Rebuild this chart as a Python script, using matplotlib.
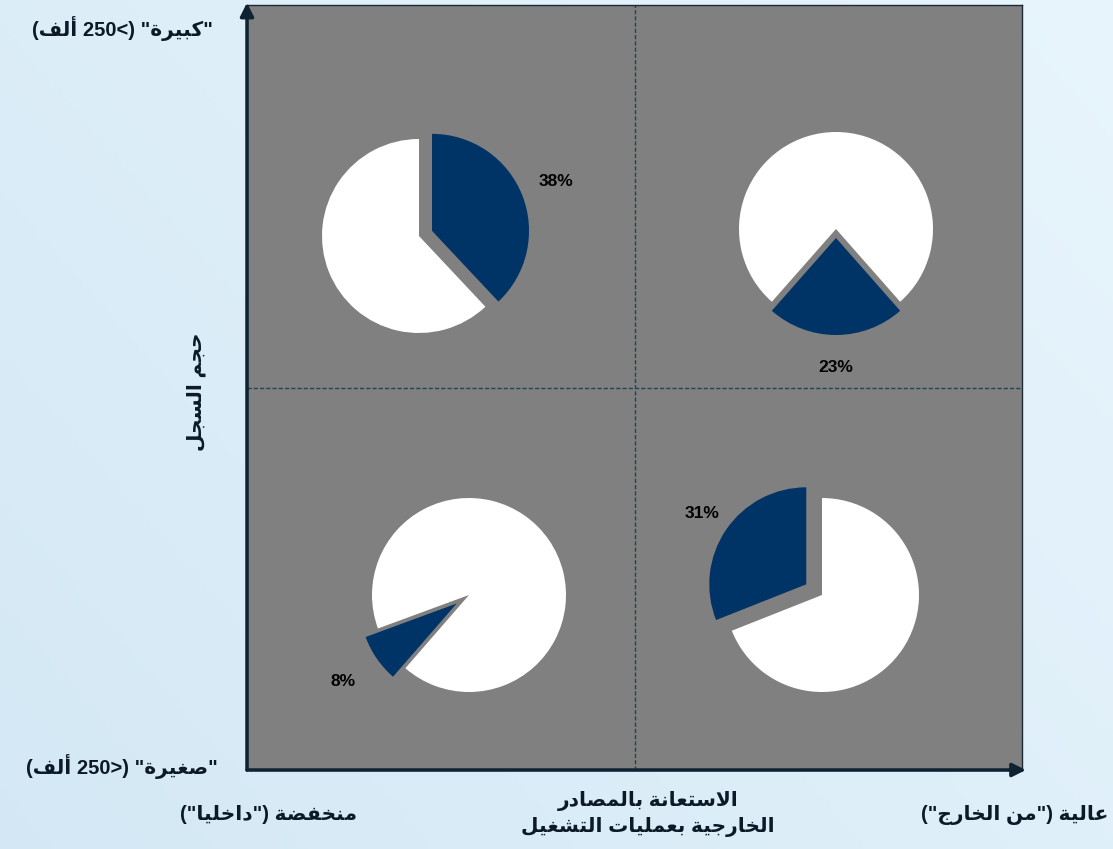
import re
import numpy as np
import matplotlib
matplotlib.use("Agg")
import matplotlib.pyplot as plt

# ---- data -------------------------------------------------------------
quadrants = ["top-left", "top-right", "bottom-left", "bottom-right"]
outsourced_pct = [38, 23, 8, 31]

y_top_label = '"كبيرة" (>250 ألف)'
y_bottom_label = '"صغيرة" (<250 ألف)'
y_title = "حجم السجل"
x_left_label = 'منخفضة ("داخليا")'
x_right_label = 'عالية ("من الخارج")'
x_title = ["الاستعانة بالمصادر", "الخارجية بعمليات التشغيل"]

# ---- layout / style ---------------------------------------------------
BLUE = "#003366"
DARK = "#0b1a26"
GRAY = "#808080"
FONT = ["Liberation Sans", "DejaVu Sans"]

W, H = 775, 765                      # size of the grey square, in px
pie_centers = [(172, 534), (589, 541), (222, 175), (575, 175)]
pie_start = [90, -48.6, 229, 201.6]  # blue slice drawn clockwise from here
pie_explode = [14, 9, 15, 19]
label_dist = [1.37, 1.34, 1.42, 1.30]
RADIUS = 97

# ---- minimal arabic shaping (matplotlib has no complex text layout) ---
AR_FORMS = {
    "\u0627": (0xFE8D, 2), "\u0623": (0xFE83, 2), "\u0628": (0xFE8F, 4),
    "\u0629": (0xFE93, 2), "\u062A": (0xFE95, 4), "\u062C": (0xFE9D, 4),
    "\u062D": (0xFEA1, 4), "\u062E": (0xFEA5, 4), "\u062F": (0xFEA9, 2),
    "\u0631": (0xFEAD, 2), "\u0633": (0xFEB1, 4), "\u0634": (0xFEB5, 4),
    "\u0635": (0xFEB9, 4), "\u0636": (0xFEBD, 4), "\u0639": (0xFEC9, 4),
    "\u063A": (0xFECD, 4), "\u0641": (0xFED1, 4), "\u0643": (0xFED9, 4),
    "\u0644": (0xFEDD, 4), "\u0645": (0xFEE1, 4), "\u0646": (0xFEE5, 4),
    "\u064A": (0xFEF1, 4),
}
LAM_ALEF = {"\u0627": 0xFEFB, "\u0623": 0xFEF7}
MIRROR = str.maketrans("()<>", ")(><")


def shape(text):
    items = []
    i = 0
    while i < len(text):
        c = text[i]
        if c == "\u0644" and i + 1 < len(text) and text[i + 1] in LAM_ALEF:
            items.append(("LA", LAM_ALEF[text[i + 1]], 2))
            i += 2
        elif c in AR_FORMS:
            base, n = AR_FORMS[c]
            items.append((c, base, n))
            i += 1
        else:
            items.append((c, None, 0))
            i += 1
    out = []
    for k, (c, base, n) in enumerate(items):
        if base is None:
            out.append(c)
            continue
        prev = items[k - 1] if k > 0 else None
        nxt = items[k + 1] if k + 1 < len(items) else None
        jp = prev is not None and prev[2] == 4
        jn = n == 4 and nxt is not None and nxt[1] is not None
        form = 3 if (jp and jn) else 1 if jp else 2 if jn else 0
        out.append(chr(base + form))
    return "".join(out)


def ar(text):
    """Shape an RTL string and put it in visual (left-to-right) order."""
    s = shape(text)[::-1].translate(MIRROR)
    return re.sub(r"\d+", lambda m: m.group(0)[::-1], s)


# ---- figure -----------------------------------------------------------
fig = plt.figure(figsize=(11.13, 8.49), dpi=100)
fw, fh = 1113, 849

bg = fig.add_axes([0, 0, 1, 1], zorder=-10)
gx, gy = np.meshgrid(np.linspace(0, 1, 200), np.linspace(0, 1, 200))
t = (0.6 * gx + 0.4 * (1 - gy))[..., None]
c_lo = np.array([0.83, 0.91, 0.96])
c_hi = np.array([0.91, 0.96, 0.99])
bg.imshow(c_lo + (c_hi - c_lo) * t, aspect="auto", extent=[0, 1, 0, 1])
bg.axis("off")

ax = fig.add_axes([247 / fw, 1 - 770 / fh, W / fw, H / fh])
ax.set_facecolor(GRAY)

for q, pct in enumerate(outsourced_pct):
    wedges, texts = ax.pie(
        [pct, 100 - pct], colors=[BLUE, "white"], labels=[f"{pct}%", ""],
        startangle=pie_start[q], counterclock=False,
        explode=[pie_explode[q], 0], center=pie_centers[q], radius=RADIUS,
        labeldistance=label_dist[q], frame=True,
        wedgeprops=dict(linewidth=0))
    for txt in texts:
        txt.set(ha="center", va="center", fontsize=12.5, fontweight="bold",
                color="black", family=FONT)

ax.set_xlim(0, W)
ax.set_ylim(0, H)
ax.set_xticks([])
ax.set_yticks([])
for sp in ax.spines.values():
    sp.set_color("#1a2a36")
    sp.set_linewidth(1)

ax.axvline(W / 2, color="#1f4656", lw=1, ls=(0, (3, 1.5)))
ax.axhline(H / 2, color="#1f4656", lw=1, ls=(0, (3, 1.5)))

arrow = dict(arrowstyle="-|>", color="#0e2232", lw=2.5, mutation_scale=20,
             shrinkA=0, shrinkB=0)
ax.annotate("", xy=(0, 1.003), xytext=(0, 0), xycoords="axes fraction",
            arrowprops=arrow, annotation_clip=False)
ax.annotate("", xy=(1.005, 0), xytext=(0, 0), xycoords="axes fraction",
            arrowprops=arrow, annotation_clip=False)

txt_kw = dict(family=FONT, fontsize=14.5, fontweight="bold", color=DARK,
              ha="center", va="center")
fig.text(122 / fw, 1 - 28 / fh, ar(y_top_label), **txt_kw)
fig.text(122 / fw, 1 - 766 / fh, ar(y_bottom_label), **txt_kw)
fig.text(196 / fw, 1 - 392 / fh, ar(y_title), rotation=90, **txt_kw)
fig.text(268 / fw, 1 - 815 / fh, ar(x_left_label), **txt_kw)
fig.text(1108 / fw, 1 - 815 / fh, ar(x_right_label),
         **{**txt_kw, "ha": "right"})
fig.text(648 / fw, 1 - 814 / fh, "\n".join(ar(s) for s in x_title),
         linespacing=1.35, **txt_kw)

fig.savefig("out.png", dpi=100)
